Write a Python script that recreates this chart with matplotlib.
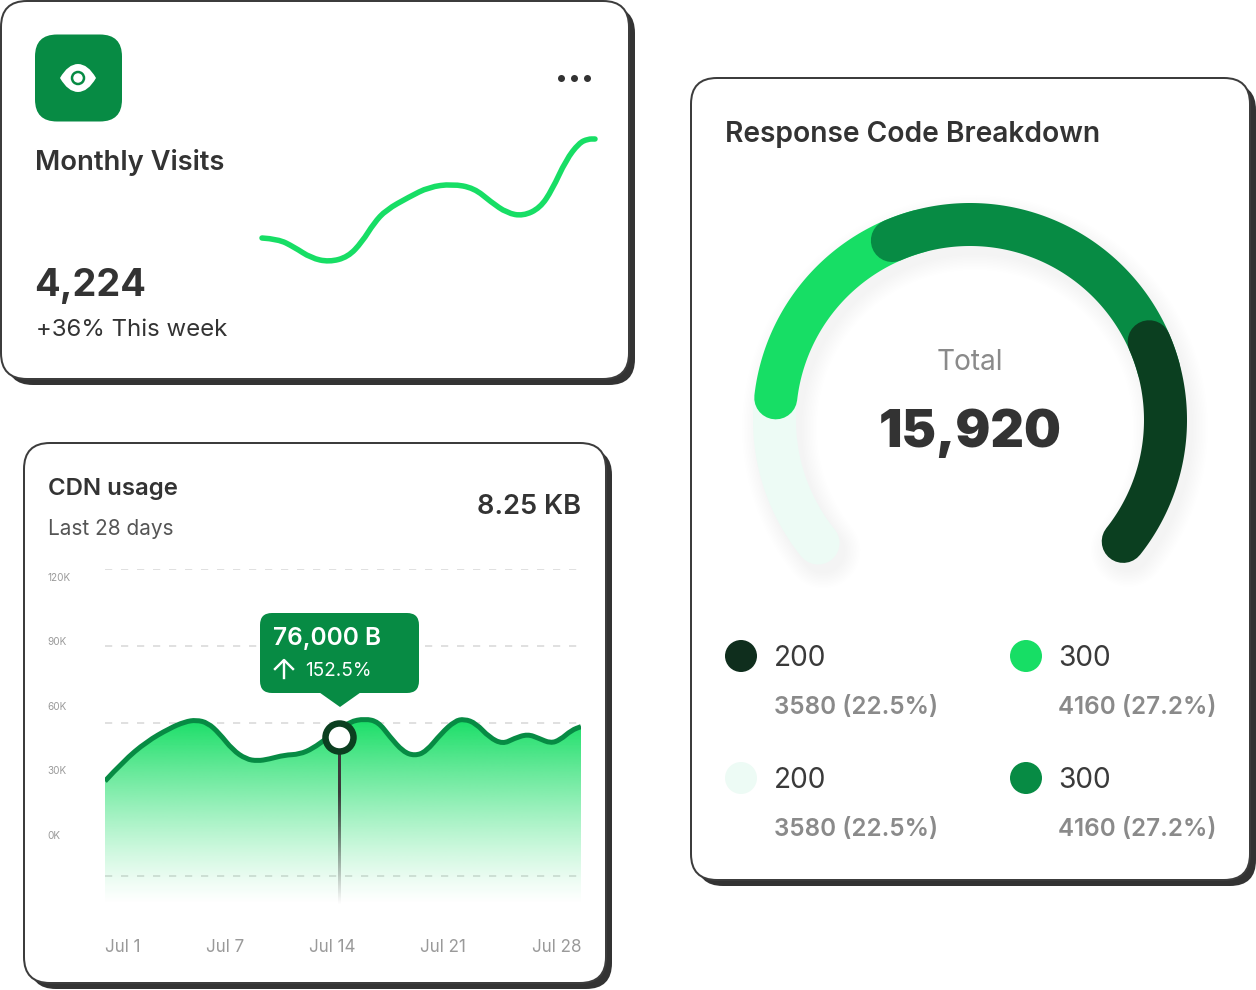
#!/usr/bin/env python3
"""Dashboard cards: monthly visits sparkline, CDN usage area chart, response code gauge."""
import numpy as np
import matplotlib
matplotlib.use("Agg")
import matplotlib.pyplot as plt
import matplotlib.patheffects as pe
from matplotlib.patches import Circle, FancyBboxPatch, PathPatch, Polygon
from matplotlib.path import Path
from matplotlib.colors import to_rgb

W, H = 1256, 990
FONT = "Inter"

BRIGHT = "#17DE65"
GREEN = "#078B44"
DARK = "#0B3F20"
PALE = "#EDFBF5"
INK = "#333333"
GREY = "#8A8A8A"

# sparkline, monthly visits
spark_x = [0, 16, 32, 49, 67, 86, 100, 112, 124, 147, 167, 190, 212, 229, 245,
           261, 278, 290, 304, 317, 326, 333]
spark_y = [32, 31, 23, 12, 8, 13, 28, 47, 60, 73, 83, 86, 82, 68, 57,
           54, 62, 80, 110, 127, 131, 131]

# CDN usage
cdn_days = [1.0, 2.04, 3.35, 4.65, 5.53, 6.17, 6.83, 7.48, 8.24, 9.0, 9.65, 10.3,
            11.17, 12.04, 12.8, 13.56, 14.32, 14.87, 15.74, 16.5, 17.15, 17.91,
            18.56, 19.21, 20.08, 20.84, 21.38, 22.04, 22.8, 23.56, 24.21, 24.97,
            25.62, 26.27, 26.81, 27.46, 28.0]
cdn_values = [37.1, 44.9, 52.5, 57.7, 60.3, 61.0, 59.9, 55.8, 49.3, 45.7, 45.0, 45.7,
              47.3, 47.6, 49.9, 53.8, 57.0, 60.3, 61.5, 60.3, 54.5, 48.6,
              47.0, 48.6, 55.8, 60.6, 61.4, 59.7, 54.2, 51.6, 53.8, 55.5,
              53.8, 51.9, 53.2, 57.0, 58.4]
cdn_grid = [0, 60, 90, 120]
cdn_ylabels = ["120K", "90K", "60K", "30K", "0K"]
cdn_xlabels = ["Jul 1", "Jul 7", "Jul 14", "Jul 21", "Jul 28"]
marker_day = 14.3
marker_value = 54.5

# gauge, degrees counter-clockwise from east
gauge_start = [219, 173.5, 113.4, 23.6]
gauge_end = [165, 105, 15, -38.4]
gauge_colors = [PALE, BRIGHT, GREEN, DARK]

legend_codes = ["200", "300", "200", "300"]
legend_counts = ["3580 (22.5%)", "4160 (27.2%)", "3580 (22.5%)", "4160 (27.2%)"]
legend_colors = ["#0F2E1D", BRIGHT, PALE, GREEN]


def px(n):
    return n * 72 / 100


def rect_axes(x0, y0, x1, y1, **kw):
    # axes from a pixel box, y measured from the top of the picture
    return fig.add_axes([x0 / W, 1 - y1 / H, (x1 - x0) / W, (y1 - y0) / H], **kw)


def smooth_path(xs, ys):
    verts = [(xs[0], ys[0])]
    codes = [Path.MOVETO]
    for i in range(1, len(xs) - 1):
        verts += [(xs[i], ys[i]), ((xs[i] + xs[i + 1]) / 2, (ys[i] + ys[i + 1]) / 2)]
        codes += [Path.CURVE3, Path.CURVE3]
    verts.append((xs[-1], ys[-1]))
    codes.append(Path.LINETO)
    return verts, codes


def card(ax, x0, y0, x1, y1):
    for dx, fc, lw in ((6, INK, 0), (0, "white", px(2))):
        ax.add_patch(FancyBboxPatch((x0 + dx, y0 + dx), x1 - x0, y1 - y0,
                                    boxstyle="round,pad=0,rounding_size=26",
                                    fc=fc, ec="#3C3C3C" if lw else "none", lw=lw))


def label(ax, x, y, s, size, color=INK, weight=400, ha="left"):
    return ax.text(x, y, s, fontsize=px(size), color=color, fontweight=weight, ha=ha,
                   va="center_baseline", family=[FONT, "DejaVu Sans"])


fig = plt.figure(figsize=(W / 100, H / 100), dpi=100, facecolor="white")

back = rect_axes(0, 0, W, H, zorder=0)
back.set_xlim(0, W)
back.set_ylim(H, 0)
back.axis("off")

card(back, 1, 1, 629, 379)
card(back, 24, 443, 606, 983)
card(back, 691, 78, 1250, 880)

# monthly visits card
back.add_patch(FancyBboxPatch((35, 34.5), 87, 87, boxstyle="round,pad=0,rounding_size=22",
                              fc=GREEN, ec="none"))
eye = Path([(60, 78), (68, 64), (78, 64), (78, 64), (88, 64), (96, 78),
            (88, 92), (78, 92), (78, 92), (68, 92), (60, 78)],
           [Path.MOVETO, Path.CURVE3, Path.CURVE3, Path.LINETO, Path.CURVE3, Path.CURVE3,
            Path.CURVE3, Path.CURVE3, Path.LINETO, Path.CURVE3, Path.CURVE3])
back.add_patch(PathPatch(eye, fc="white", ec="none"))
back.add_patch(Circle((78, 78), 6, fc="white", ec=GREEN, lw=px(2.5)))
back.plot([561, 574, 587], [78, 78, 78], "o", color=INK, ms=px(7), mew=0)
label(back, 35, 159, "Monthly Visits", 27.4, weight=600)
label(back, 34.5, 282, "4,224", 38, weight=700)
label(back, 35.5, 328, "+36% This week", 24)

spark = rect_axes(262, 130, 597, 270, zorder=1)
spark.set_xlim(0, 335)
spark.set_ylim(0, 140)
spark.axis("off")
verts, codes = smooth_path(spark_x, spark_y)
spark.add_patch(PathPatch(Path(verts, codes), fc="none", ec=BRIGHT, lw=px(5.5),
                          capstyle="round", clip_on=False))

# CDN usage card
label(back, 47.5, 487, "CDN usage", 24, weight=600)
label(back, 47.5, 527, "Last 28 days", 20.8, color="#555555")
label(back, 581, 504, "8.25 KB", 27.2, weight=600, ha="right")
for s, y in zip(cdn_ylabels, [577, 641, 706, 770, 835]):
    label(back, 47, y, s, 10, color="#9A9A9A")
for s, x in zip(cdn_xlabels, [105, 206, 309, 420, 532]):
    label(back, x, 946, s, 17, color="#9A9A9A")

cdn = rect_axes(105, 569, 581, 905, zorder=1)
cdn.set_xlim(1, 28)
cdn.set_ylim(-11.3, 120)
cdn.axis("off")
cdn.hlines(cdn_grid, 1, 28, color="#E0E0E0", lw=px(2), linestyles=(0, (3.6, 4.4)), zorder=1)

verts, codes = smooth_path(cdn_days, cdn_values)
area = Path(verts + [(28, -11.3), (1, -11.3), (1, cdn_values[0])],
            codes + [Path.LINETO, Path.LINETO, Path.LINETO])
fade = np.zeros((256, 1, 4))
fade[..., :3] = to_rgb(BRIGHT)
fade[:, 0, 3] = np.linspace(1, 0, 256) ** 1.25
top = max(cdn_values)
img = cdn.imshow(fade, extent=(1, 28, -11.3, top), aspect="auto", origin="upper", zorder=2)
img.set_clip_path(PathPatch(area, transform=cdn.transData))
cdn.set_xlim(1, 28)
cdn.set_ylim(-11.3, 120)
cdn.add_patch(PathPatch(Path(verts, codes), fc="none", ec=GREEN, lw=px(5), zorder=3))

stem = np.zeros((128, 1, 4))
stem[..., :3] = to_rgb("#3A3A3A")
stem[:, 0, 3] = np.clip(np.linspace(1.5, 0, 128), 0, 1)
cdn.imshow(stem, extent=(marker_day - 0.085, marker_day + 0.085, -11.3, marker_value),
           aspect="auto", origin="upper", zorder=4)
cdn.set_xlim(1, 28)
cdn.set_ylim(-11.3, 120)
cdn.plot([marker_day], [marker_value], "o", ms=px(28), mfc="white", mec=DARK, mew=px(6.5),
         zorder=5, clip_on=False)

# gauge card
label(back, 725, 132, "Response Code Breakdown", 28.2, weight=600)
gauge = rect_axes(970 - 217, 420 - 217, 970 + 217, 420 + 217, projection="polar", zorder=1)
gauge.set_rlim(0, 217)
gauge.axis("off")
shadow_effects = [pe.SimpleLineShadow(offset=(px(5), px(-8)), shadow_color="black", alpha=0.0035,
                                      linewidth=px(43 + w)) for w in range(2, 34, 3)]
shadow_theta = np.radians(np.linspace(gauge_start[0], gauge_end[-1], 200))
gauge.plot(shadow_theta, np.full(200, 195.5), color="none", lw=px(43), clip_on=False,
           solid_capstyle="round", path_effects=shadow_effects)
for start, end, color in zip(gauge_start, gauge_end, gauge_colors):
    theta = np.radians(np.linspace(start, end, 120))
    gauge.plot(theta, np.full(120, 195.5), color=color, lw=px(43), clip_on=False,
               solid_capstyle="round")

front = rect_axes(0, 0, W, H, zorder=2)
front.set_xlim(0, W)
front.set_ylim(H, 0)
front.axis("off")

label(front, 970, 359, "Total", 28, color=GREY, ha="center")
label(front, 970, 428, "15,920", 52, weight=900, ha="center")
for i, (code, count, color) in enumerate(zip(legend_codes, legend_counts, legend_colors)):
    x = 741 + 285 * (i % 2)
    y = 656 + 122 * (i // 2)
    front.add_patch(Circle((x, y), 16, fc=color, ec="none"))
    label(front, x + 32.5, y, code, 28, color="#3A3A3A")
    label(front, x + 32.5, y + 49, count, 24.2, color=GREY, weight=600)

# tooltip
front.add_patch(FancyBboxPatch((260, 613), 159, 80, boxstyle="round,pad=0,rounding_size=12",
                               fc=GREEN, ec="none"))
front.add_patch(Polygon([(316, 690), (340, 707), (364, 690)], fc=GREEN, ec="none"))
label(front, 273, 636, "76,000 B", 24.4, color="white", weight=600)
label(front, 305, 669, "152.5%", 19, color="white")
front.plot([284, 284], [661, 678], color="white", lw=px(2.4))
front.plot([275, 284, 293], [669, 660, 669], color="white", lw=px(2.4))

fig.savefig("out.png", dpi=100, facecolor="white")
